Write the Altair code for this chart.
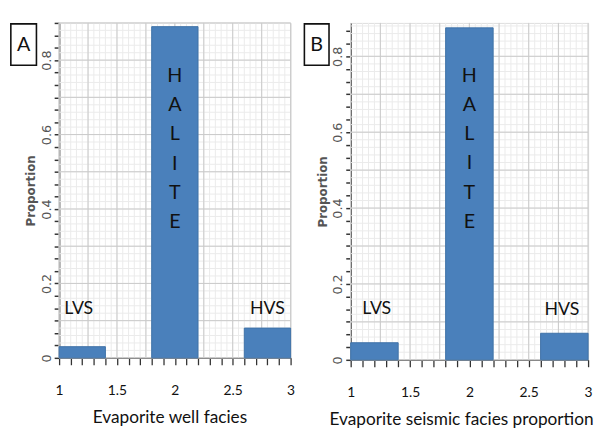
import altair as alt
import numpy as np
import pandas as pd

# Facies bins along the x axis and the proportion of each facies
facies = ["LVS", "HALITE", "HVS"]
bin_start = [1.0, 1.8, 2.6]
bin_end = [1.4, 2.2, 3.0]
well_prop = [0.03, 0.89, 0.08]
seismic_prop = [0.045, 0.875, 0.07]

BAR_COLOR = "#4a80bb"
MAJOR_GRID = "#c9c9c9"
MINOR_GRID = "#ebebeb"
LABEL_FONT = "Lato"


def panel(letter, prop, ymax, width, height, xtitle, title_x,
          halite_top, lvs_xy, hvs_xy, box_x, box_y):
    xscale = alt.Scale(domain=[1, 3], nice=False, zero=False)
    yscale = alt.Scale(domain=[0, ymax], nice=False)

    x_ticks = [round(1 + k / 10, 2) for k in range(21)]
    y_ticks = [round(k / 30, 5) for k in range(int(ymax * 30 + 1e-6) + 1)]

    xaxis = alt.Axis(
        values=x_ticks,
        labelExpr="abs(datum.value*2 - round(datum.value*2)) < 1e-6 ? format(datum.value, '.1~f') : ''",
        grid=False, tickSize=7, tickColor="#333", tickWidth=1.3,
        domainColor="#333", domainWidth=1.5, labelPadding=19,
        labelFont=LABEL_FONT, labelFontSize=14, labelColor="#111",
        title=xtitle, titleFont=LABEL_FONT, titleFontSize=17.5,
        titleFontWeight="normal", titleColor="#111", titlePadding=12,
        titleX=title_x, labelFlush=False,
    )
    yaxis = alt.Axis(
        values=y_ticks,
        labelExpr="abs(datum.value*5 - round(datum.value*5)) < 1e-6 ? (datum.value == 0 ? '0' : format(datum.value, '.1f')) : ''",
        grid=False, tickSize=5, tickColor="#333", tickWidth=1.5,
        domainColor="#333", domainWidth=1.5, labelAngle=-90,
        labelAlign="center", labelBaseline="bottom", labelPadding=1,
        labelFont="DejaVu Sans", labelFontSize=13, labelColor="#555",
        title="Proportion", titleFont="DejaVu Sans", titleFontSize=12,
        titleColor="#555", titleFontWeight="bold", titlePadding=3,
        labelFlush=False,
    )

    def X(field):
        return alt.X(field, type="quantitative", scale=xscale, axis=xaxis)

    def Y(field):
        return alt.Y(field, type="quantitative", scale=yscale, axis=yaxis)

    xminor = pd.DataFrame({"x": np.round(np.arange(1, 3.0001, 0.05), 3)})
    xmajor = pd.DataFrame({"x": np.round(np.arange(1, 3.0001, 0.25), 3)})
    yminor = pd.DataFrame({"y": np.round(np.arange(0, ymax + 1e-6, 0.02), 3)})
    ymajor = pd.DataFrame({"y": np.round(np.arange(0, ymax + 1e-6, 0.1), 3)})

    grid = (
        alt.Chart(xminor).mark_rule(color=MINOR_GRID, strokeWidth=1).encode(x=X("x"))
        + alt.Chart(yminor).mark_rule(color=MINOR_GRID, strokeWidth=1).encode(y=Y("y"))
        + alt.Chart(xmajor).mark_rule(color=MAJOR_GRID, strokeWidth=1).encode(x=X("x"))
        + alt.Chart(ymajor).mark_rule(color=MAJOR_GRID, strokeWidth=1).encode(y=Y("y"))
    )

    bars_df = pd.DataFrame({"facies": facies, "x": bin_start, "x2": bin_end, "y": prop})
    bars = alt.Chart(bars_df).mark_bar(
        color=BAR_COLOR, stroke="#3f72a8", strokeWidth=1
    ).encode(x=X("x"), x2="x2", y=Y("y"), y2=alt.datum(0))

    labels_df = pd.DataFrame({
        "x": [lvs_xy[0], hvs_xy[0]],
        "y": [lvs_xy[1], hvs_xy[1]],
        "label": [facies[0], facies[2]],
    })
    side_labels = alt.Chart(labels_df).mark_text(
        font=LABEL_FONT, fontSize=18, color="#111", baseline="middle"
    ).encode(x=X("x"), y=Y("y"), text="label:N")

    # the middle bar's name, written one letter per line down the bar
    halite_df = pd.DataFrame({"x": [2.0], "y": [halite_top]})
    halite_layers = [
        alt.Chart(halite_df).mark_text(
            text=ch, font=LABEL_FONT, fontSize=20, color="#111",
            baseline="middle", dy=i * 29.6,
        ).encode(x=X("x"), y=Y("y"))
        for i, ch in enumerate(facies[1])
    ]

    tag_df = pd.DataFrame({"tag": [letter]})
    tag_box = alt.Chart(tag_df).mark_rect(
        fill="white", stroke="#111", strokeWidth=1.6
    ).encode(
        x=alt.value(box_x[0]), x2=alt.value(box_x[1]),
        y=alt.value(box_y[0]), y2=alt.value(box_y[1]),
    )
    tag_text = alt.Chart(tag_df).mark_text(
        font=LABEL_FONT, fontSize=20, color="#111", baseline="middle"
    ).encode(
        x=alt.value((box_x[0] + box_x[1]) / 2),
        y=alt.value((box_y[0] + box_y[1]) / 2 + 1),
        text="tag:N",
    )

    return alt.layer(
        grid, bars, side_labels, *halite_layers, tag_box, tag_text
    ).properties(width=width, height=height)


panel_a = panel("A", well_prop, 0.9, 235, 340, "Evaporite well facies", 112,
                0.757, (1.17, 0.132), (2.80, 0.132), (-49, -23), (1, 43))
panel_b = panel("B", seismic_prop, 0.888, 241, 342, "Evaporite seismic facies proportion", 112,
                0.748, (1.22, 0.135), (2.78, 0.13), (-47, -22), (1, 43))

chart = alt.hconcat(panel_a, panel_b, spacing=7).properties(
    padding={"left": 9, "top": 18, "right": 0, "bottom": 0}
).configure_view(stroke="#9a9a9a", strokeWidth=1.5).configure(background="white")

chart.save("out.html", embed_options={"renderer": "svg", "actions": False})
